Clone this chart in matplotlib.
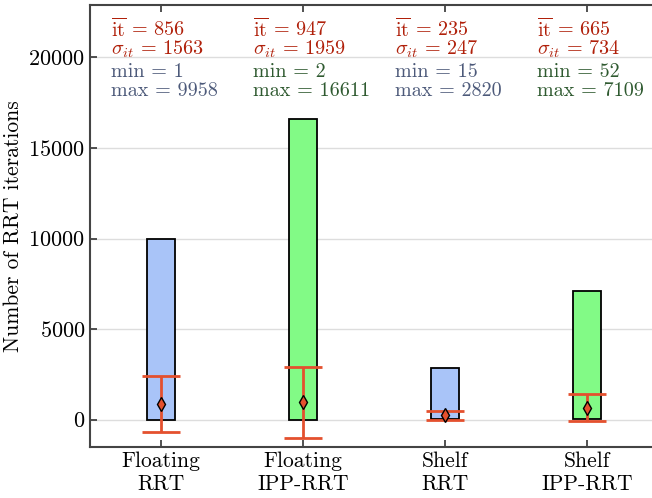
# Iterations needed by RRT / IPP-RRT per scenario: bar = min..max, error bar = mean +- std.
import matplotlib.pyplot as plt

plt.rcParams["font.family"] = "serif"
plt.rcParams["font.serif"] = ["cmr10"]
plt.rcParams["mathtext.fontset"] = "cm"
plt.rcParams["axes.formatter.use_mathtext"] = True

labels = ["Floating\nRRT", "Floating\nIPP-RRT", "Shelf\nRRT", "Shelf\nIPP-RRT"]
means = [856, 947, 235, 665]
stds = [1563, 1959, 247, 734]
mins = [1, 2, 15, 52]
maxs = [9958, 16611, 2820, 7109]

BAR_COLORS = ["#a9c4f8", "#82fa86", "#a9c4f8", "#82fa86"]
STAT_COLOR = "#b0200a"
RANGE_COLORS = ["#4d5a7a", "#2f5a30", "#4d5a7a", "#2f5a30"]
ERR_COLOR = "#e4502e"

fig = plt.figure(figsize=(6.52, 4.98), dpi=100)
ax = fig.add_axes([0.138, 0.103, 0.871, 0.887])

x = list(range(len(labels)))
ax.bar(x, [hi - lo for lo, hi in zip(mins, maxs)], bottom=mins, width=0.2,
       color=BAR_COLORS, edgecolor="black", linewidth=1.3, zorder=2)
ax.errorbar(x, means, yerr=stds, fmt="none", ecolor=ERR_COLOR, elinewidth=2,
            capsize=13.5, capthick=2, zorder=3)
ax.plot(x, means, "d", ms=7, mfc=ERR_COLOR, mec="black", mew=1, zorder=4)

for i in x:
    tx = i - 0.35
    ax.text(tx, 21550, r"$\overline{\mathrm{it}}$ = %d" % means[i], color=STAT_COLOR,
            fontsize=14.5, va="center", ha="left")
    ax.text(tx, 20480, r"$\sigma_{it}$ = %d" % stds[i], color=STAT_COLOR,
            fontsize=14.5, va="center", ha="left")
    ax.text(tx, 19200, "min = %d" % mins[i], color=RANGE_COLORS[i],
            fontsize=14.5, va="center", ha="left")
    ax.text(tx, 18150, "max = %d" % maxs[i], color=RANGE_COLORS[i],
            fontsize=14.5, va="center", ha="left")

ax.set_xlim(-0.5, 3.5)
ax.set_ylim(-1500, 22900)
ax.set_yticks([0, 5000, 10000, 15000, 20000])
ax.set_xticks(x)
ax.set_xticklabels(labels, fontsize=15.5)
ax.tick_params(axis="y", labelsize=16)
ax.tick_params(direction="in", top=True, length=5, width=1.2, color="#333333")
ax.set_ylabel("Number of RRT iterations", fontsize=15.5)
ax.yaxis.grid(True, color="#dddddd", linewidth=1)
ax.set_axisbelow(True)
for s in ax.spines.values():
    s.set_color("#444444")
    s.set_linewidth(1.5)
ax.spines["right"].set_visible(False)

fig.savefig("out.png", dpi=100)
